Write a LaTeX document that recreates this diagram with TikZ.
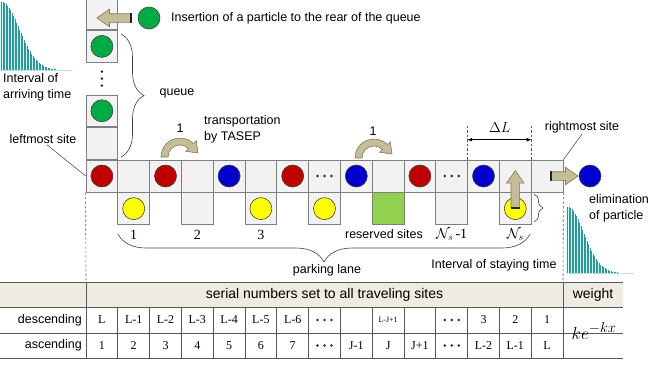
\documentclass[tikz,border=0pt]{standalone}
\usepackage[no-math]{fontspec}
\setmainfont{Liberation Sans}
\newfontfamily\serifnum{Liberation Serif}
\usetikzlibrary{positioning, arrows.meta, calc, shapes.arrows, decorations.pathreplacing}
\definecolor{cellfill}{HTML}{F2F2F2}
\definecolor{cellline}{HTML}{7F7F7F}
\definecolor{ballred}{HTML}{C00000}
\definecolor{ballblue}{HTML}{0000CC}
\definecolor{ballgreen}{HTML}{00AA44}
\definecolor{ballyellow}{HTML}{FFFF00}
\definecolor{ballline}{HTML}{404040}
\definecolor{resgreen}{HTML}{92D050}
\definecolor{tanfill}{HTML}{C4BD97}
\definecolor{tanline}{HTML}{7F7A5E}
\definecolor{histc}{HTML}{1B9E9E}
\definecolor{hdrfill}{HTML}{EEECE1}
\definecolor{tabline}{HTML}{595959}
\tikzstyle{cell}=[draw=cellline, fill=cellfill, line width=0.8pt, minimum size=31.8pt, inner sep=0pt]
\tikzstyle{ball}=[circle, draw=ballline, fill=#1, line width=0.6pt, minimum size=22pt, inner sep=0pt]
\tikzstyle{blockar}=[single arrow, draw=tanline, fill=tanfill, line width=0.6pt, inner sep=4pt,
                     minimum width=17pt, single arrow head extend=4.5pt, single arrow tip angle=70]
\tikzstyle{tailmark}=[line width=2.5pt, black!85]
\tikzstyle{hopar}=[draw=tanline, fill=tanfill, line width=0.6pt]
\tikzstyle{brc}=[decorate, line width=0.6pt, black!75]
\tikzstyle{leader}=[line width=0.5pt, black!75]
\tikzstyle{dashline}=[line width=0.6pt, black!65, dash pattern=on 2.5pt off 2pt]
\tikzstyle{lbl}=[inner sep=1pt, font=\fontsize{12.5}{16}\selectfont]
\tikzstyle{hdr}=[inner sep=1pt, font=\fontsize{14}{16}\selectfont]
\tikzstyle{numlbl}=[inner sep=1pt, font=\serifnum\fontsize{14}{16}\selectfont]
\tikzstyle{val}=[inner sep=0pt, font=\serifnum\fontsize{12}{14}\selectfont]
\tikzstyle{tabrule}=[line width=0.8pt, tabline]
% curved hop arrow over two sites, #1 = centre of the arc
\newcommand\hoparrow[1]{%
  \filldraw[hopar, shift={#1}] (-19,0) arc[start angle=180, end angle=315, radius=19]
    -- (16.3,-16.3) -- (18,-4) -- (5.7,-5.7) -- (8.5,-8.5)
    arc[start angle=315, end angle=180, radius=12] -- cycle;}
\newcommand\dotrow[1]{\foreach \dx in {-7,0,7} \fill[black!85] ([xshift=\dx pt]#1) circle (1.4pt);}

\begin{document}
\begin{tikzpicture}[x=1pt, y=-1pt]
    \useasboundingbox (0,0) rectangle (652,365);
    % arrival and staying histograms
    \foreach \k in {0,...,46}
      \fill[histc] ({1+1.5*\k},70) rectangle ++(1.35,{-68*exp(-((1.5*\k)/25)^2)});
    \fill[histc!30] (0,69.5) rectangle (72,70.5);
    \foreach \k in {0,...,44}
      \fill[histc] ({567+1.5*\k},273) rectangle ++(1.35,{-66*exp(-((1.5*\k)/23)^2)});
    \fill[histc!30] (567,272.5) rectangle (634,273.5);

    % traveling lane
    \foreach \i in {0,...,14}
      \node[cell] (site\i) at ({86+31.8*(\i+0.5)},176) {};
    % queue
    \node[cell, above=0pt of site0] (q0) {};
    \node[cell, above=0pt of q0] (q1) {};
    \node[cell, above=31.8pt of q1] (q2) {};
    \node[cell, above=0pt of q2] (q3) {};
    % parking lane
    \foreach \i in {1,3,5,7,11,13}
      \node[cell, below=0pt of site\i] (park\i) {};
    \node[cell, fill=resgreen, below=0pt of site9] (park9) {};

    % particles
    \foreach \i/\c in {0/ballred, 2/ballred, 4/ballblue, 6/ballred, 8/ballblue, 10/ballred, 12/ballblue}
      \node[ball=\c] (b\i) at (site\i) {};
    \foreach \i in {1,5,7,13}
      \node[ball=ballyellow] (p\i) at (park\i) {};
    \node[ball=ballgreen] (g1) at (q1) {};
    \node[ball=ballgreen] (g2) at (q2) {};
    \dotrow{site7}
    \dotrow{site11}
    \coordinate (qmid) at ($(q1)!0.5!(q2)$);
    \foreach \dy in {-7,0,7} \fill[black!85] ([yshift=\dy pt]qmid) circle (1.4pt);

    % insertion and elimination
    \node[blockar, shape border rotate=180, minimum height=34pt] (insar) at (117,18) {};
    \draw[tailmark] (insar.before tail) -- (insar.after tail);
    \node[ball=ballgreen] (newball) at (149,18) {};
    \node[lbl, anchor=west] (instxt) at (170,18) {Insertion of a particle to the rear of the queue};
    \node[blockar, minimum height=27pt] (outar) at (561.5,176) {};
    \draw[tailmark] (outar.before tail) -- (outar.after tail);
    \node[ball=ballblue] (outball) at (590,176) {};
    \node[lbl, align=left, anchor=west] (elimtxt) at (588,208) {elimination\\of particle};
    \node[blockar, shape border rotate=90, minimum height=37pt] (upar) at ($(park13)+(0,-16.5)$) {};
    \draw[tailmark] (upar.before tail) -- (upar.after tail);

    % hops
    \hoparrow{(180,157)}
    \hoparrow{(374,158)}
    \node[lbl] (hop1) at (180,128) {1};
    \node[lbl] (hop2) at (373,131) {1};
    \node[lbl, align=left, anchor=west] (taseptxt) at (203,129) {transportation\\by TASEP};

    % labels and braces
    \node[lbl, align=left, anchor=west] (arrtxt) at (2,87) {Interval of\\arriving time};
    \draw[brc, decoration={brace, amplitude=23pt}] (121,34) -- (121,157);
    \node[lbl] (qtxt) at (177,93) {queue};
    \node[lbl] (lefttxt) at (43,139) {leftmost site};
    \draw[leader] ([xshift=4pt]lefttxt.south) -- (site0.west);
    \node[lbl] (righttxt) at (582,127) {rightmost site};
    \draw[leader] (righttxt.south) -- (site14.north east);
    \draw[dashline] (site12.north west) -- ++(0,-36);
    \draw[dashline] (site13.north east) -- ++(0,-36);
    \draw[{Latex[length=5pt]}-{Latex[length=5pt]}, line width=0.6pt] ([yshift=20pt]site12.north west) -- ([yshift=20pt]site13.north east);
    \node[numlbl] (dltxt) at ($(site12.north east)+(0,-32)$) {$\Delta L$};

    \node[numlbl] (n1) at ([yshift=-10pt]park1.south) {1};
    \node[numlbl] (n2) at ([yshift=-10pt]park3.south) {2};
    \node[numlbl] (n3) at ([yshift=-10pt]park5.south) {3};
    \node[lbl] (restxt) at (384,234) {reserved sites};
    \node[numlbl] (nsm) at ([yshift=-10pt]park11.south) {$\mathcal{N}_s$\,-1};
    \node[numlbl] (ns) at ([yshift=-10pt]park13.south) {$\mathcal{N}_s$};
    \draw[brc, decoration={brace, amplitude=28pt}] (530,234) -- (118,234);
    \node[lbl] (parktxt) at (327,270) {parking lane};
    \draw[brc, decoration={brace, amplitude=9pt}] (534,194) -- (534,222);
    \node[lbl] (staytxt) at (494,265) {Interval of staying time};

    \draw[dashline] (site0.south west) -- (86,282);
    \draw[dashline] (site14.south east) -- (563,282);

    % table of serial numbers
    \fill[hdrfill] (0,282) rectangle (623,307);
    \foreach \yy in {282,307,333,358} \draw[tabrule] (0,\yy) -- (623,\yy);
    \draw[tabrule] (86,282) -- (86,358);
    \draw[tabrule] (563,282) -- (563,358);
    \foreach \i in {1,...,14} \draw[tabrule] ({86+31.8*\i},307) -- ({86+31.8*\i},358);
    \node[hdr] (sertxt) at (324.5,294.5) {serial numbers set to all traveling sites};
    \node[hdr] (wtxt) at (593,294.5) {weight};
    \node[lbl, anchor=east] (desctxt) at (83,320) {descending};
    \node[lbl, anchor=east] (asctxt) at (83,345.5) {ascending};
    \foreach \v [count=\i from 0] in {L,L-1,L-2,L-3,L-4,L-5,L-6,,,{\fontsize{8}{9}\selectfont L-J+1},,,3,2,1}
      \node[val] (desc\i) at ({86+31.8*(\i+0.5)},320) {\v};
    \foreach \v [count=\i from 0] in {1,2,3,4,5,6,7,,J-1,J,J+1,,L-2,L-1,L}
      \node[val] (asc\i) at ({86+31.8*(\i+0.5)},345.5) {\v};
    \foreach \i in {7,11} {\dotrow{desc\i} \dotrow{asc\i}}
    \node (kexp) at (594,331) {\fontsize{19}{22}\selectfont$ke^{-kx}$};
  \end{tikzpicture}
\end{document}
